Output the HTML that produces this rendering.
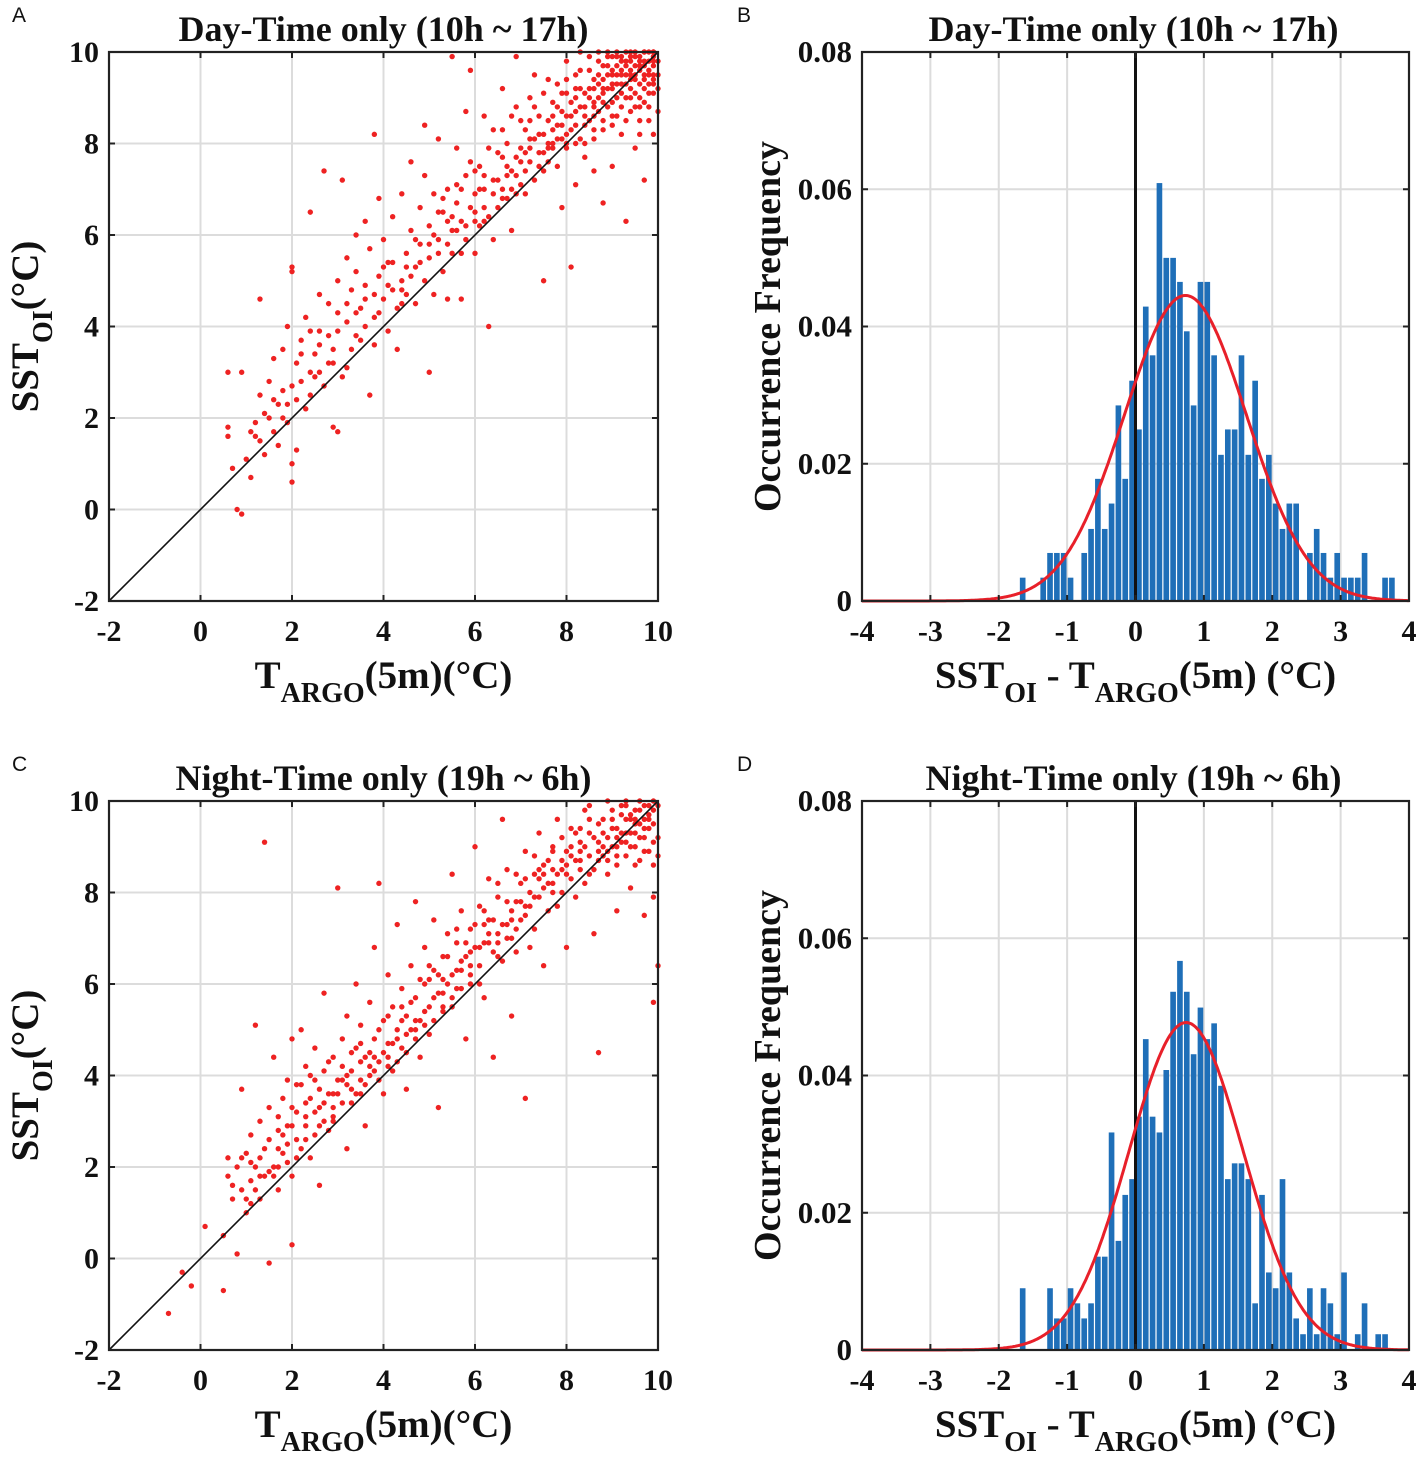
<!DOCTYPE html>
<html><head><meta charset="utf-8">
<style>
html,body{margin:0;padding:0;background:#fff;}
svg{display:block;}
text{font-family:"Liberation Serif",serif;font-weight:bold;fill:#111;}
.lbl{font-family:"Liberation Sans",sans-serif;font-weight:normal;font-size:21px;}
</style></head>
<body>
<svg id="fig" width="1417" height="1459" viewBox="0 0 1417 1459" xmlns="http://www.w3.org/2000/svg"></svg>
<script>
// ---------- data ----------
const scatterDayXY = [0.6,1.8,0.6,1.6,0.7,0.9,0.8,0.0,0.9,-0.1,0.6,3.0,0.9,3.0,1.0,1.1,1.1,0.7,1.2,1.9,1.3,1.5,1.3,2.5,1.3,4.6,1.4,1.2,1.5,2.0,1.5,2.8,1.6,1.7,1.6,3.3,1.7,2.3,1.7,1.4,1.8,2.6,1.8,3.5,1.9,1.9,1.9,4.0,2.0,5.2,2.0,5.3,2.0,0.6,2.0,1.0,2.1,2.4,2.1,3.2,2.2,2.8,2.2,3.7,2.3,2.2,2.3,4.2,2.4,3.9,2.4,6.5,2.5,2.9,2.5,3.4,2.6,3.0,2.6,4.7,2.7,2.7,2.7,7.4,2.8,3.8,2.8,4.5,2.9,3.2,2.9,1.8,3.0,1.7,3.0,3.9,3.0,5.0,3.1,2.9,3.1,7.2,3.2,4.1,3.2,5.5,3.3,3.5,3.3,4.8,3.4,5.2,3.4,6.0,3.5,3.7,3.5,4.4,3.6,4.9,3.6,6.3,3.7,2.5,3.7,5.7,3.8,4.2,3.8,3.6,3.8,8.2,3.9,5.1,3.9,6.8,4.0,4.6,4.0,5.9,4.1,3.9,4.1,4.9,4.2,5.4,4.2,6.4,4.3,4.4,4.3,3.5,4.4,5.0,4.4,6.9,4.5,5.6,4.5,4.7,4.6,6.1,4.6,7.6,4.7,5.3,4.7,4.5,4.8,6.6,4.8,5.8,4.9,5.0,4.9,7.3,5.0,6.2,5.0,5.5,5.0,3.0,5.1,4.7,5.1,6.9,5.2,5.9,5.2,8.1,5.3,6.5,5.3,5.2,5.4,7.0,5.4,4.6,5.5,6.1,5.5,5.6,5.6,6.7,5.6,7.9,5.7,6.3,5.7,4.6,5.8,5.9,5.8,7.3,5.9,6.6,5.9,9.6,6.0,6.9,6.0,5.6,6.1,7.5,6.1,6.2,6.2,7.0,6.2,8.6,6.3,6.4,6.3,4.0,6.4,7.2,6.4,5.9,6.5,7.8,6.5,6.6,6.6,7.0,6.6,9.2,6.7,6.8,6.7,8.0,6.8,7.4,6.8,6.1,6.9,7.7,6.9,8.8,7.0,7.1,7.0,7.9,7.1,8.3,7.1,6.9,7.2,7.6,7.2,9.0,7.3,8.1,7.3,7.2,7.4,8.6,7.4,7.8,7.5,8.2,7.5,5.0,7.6,9.4,7.6,7.6,7.7,8.0,7.7,8.9,7.8,8.4,7.8,7.5,7.9,9.1,7.9,8.1,8.0,8.6,8.0,7.9,8.0,9.8,8.1,8.3,8.1,5.3,8.2,9.2,8.2,8.0,8.3,8.8,8.3,9.6,8.4,8.4,8.4,7.7,8.5,9.0,8.5,8.5,8.6,9.4,8.6,8.1,8.7,8.7,8.7,9.8,8.8,9.1,8.8,8.3,8.9,9.5,8.9,8.8,9.0,9.2,9.0,7.5,9.0,9.9,9.1,9.0,9.1,8.6,9.2,9.6,9.2,9.3,9.3,9.0,9.3,9.8,9.4,9.4,9.4,8.7,9.5,9.7,9.5,9.1,9.6,9.9,9.6,9.3,9.7,9.5,9.7,8.9,9.8,9.8,9.8,9.6,9.9,9.4,9.9,10.0,9.3,6.3,9.5,7.9,9.7,7.2,8.8,6.7,8.2,7.1,7.9,6.6,9.1,9.7,8.5,9.9,8.9,10.0,9.4,10.0,8.0,9.4,7.6,8.5,7.3,9.5,6.9,9.9,6.4,8.3,5.8,8.7,5.5,9.9,4.9,8.4,9.6,8.5,9.9,8.2,9.8,9.1,9.2,8.2,8.6,7.4,7.1,7.4,6.7,7.3,6.0,7.4,5.6,7.1,5.2,6.5,4.4,4.5,3.9,4.3,3.4,3.8,2.9,3.5,2.4,2.5,1.9,2.3,1.1,1.7,2.1,1.3,3.2,3.1,4.5,5.3,5.7,5.6,6.2,6.6,6.9,6.9,7.5,7.4,8.1,8.9,8.7,9.3,9.4,9.6,9.9,9.8,9.6,9.0,9.2,9.9,8.3,8.1,7.7,7.9,7.2,8.5,6.6,7.7,6.1,7.0,5.4,6.3,4.7,5.9,4.1,5.4,3.6,4.0,2.6,3.6,8.5,9.2,8.6,8.9,8.7,9.5,8.8,9.7,8.9,9.2,9.0,9.5,9.1,9.3,9.2,9.1,9.3,9.5,9.4,9.2,9.5,9.4,9.6,9.6,9.7,9.8,9.8,9.3,9.9,9.7,9.5,10.0,9.7,10.0,9.9,9.1,9.8,8.8,9.6,8.2,9.3,8.5,9.0,8.4,8.8,8.9,8.4,9.1,8.2,8.7,8.0,8.2,7.8,8.8,9.1,9.9,9.3,9.3,9.5,8.8,9.7,9.2,9.9,9.5,9.4,9.9,9.0,8.9,8.6,8.6];
const scatterDayExtraXY = [5.1,6.0,5.3,6.8,5.5,6.4,5.7,7.0,5.9,7.6,6.0,6.3,6.2,7.3,6.3,7.9,6.5,7.2,6.6,8.3,6.7,7.5,6.8,8.6,6.9,7.3,7.0,8.5,7.1,7.8,7.2,8.1,7.3,8.8,7.4,8.2,7.5,9.1,7.6,8.0,7.7,8.6,7.8,9.3,7.9,8.7,8.0,9.1,8.1,8.6,8.2,9.5,8.3,9.2,8.4,8.8,8.5,9.6,8.6,9.2,8.7,9.0,8.8,9.4,8.9,9.7,9.0,9.6,9.1,9.5,9.2,9.8,9.3,9.7,9.4,9.5,9.5,9.9,9.6,9.7,9.7,9.4,9.8,9.5,9.9,9.9,10.0,9.8,10.0,9.5,10.0,9.2,10.0,8.7,9.8,8.5,9.6,8.8,9.4,9.0,9.2,8.8,9.0,8.6,8.8,8.5,8.6,8.3,8.4,8.0,8.2,8.4,8.0,8.0,7.8,8.1,7.6,7.9,7.4,7.5,7.2,7.9,7.0,7.6,6.8,7.0,6.6,6.8,6.4,6.9,6.2,6.3,6.0,6.5,5.8,6.2,5.6,6.1,5.4,5.8,5.2,5.6,5.0,5.8,4.8,5.4,4.6,5.1,4.4,4.8,4.2,4.8,4.0,5.3,3.8,4.7,3.6,4.6,3.4,4.3,3.2,4.5,3.0,4.3,2.8,3.2,2.6,3.9,2.4,3.0,2.2,3.4,2.0,2.7,1.8,2.0,1.6,2.4,1.4,2.1,1.2,1.6,9.1,10.0,9.3,10.0,9.7,10.0,9.9,10.0,8.7,10.0,8.3,10.0,8.9,9.9,9.5,9.5,9.7,9.7,9.9,9.3,9.8,10.0,9.6,9.8,9.4,9.8,9.2,9.5,9.0,9.3,8.8,9.2,8.6,8.8,8.4,8.6,8.2,9.0,7.9,8.4,7.7,8.3,7.5,7.8];
const scatterNightXY = [-0.7,-1.2,-0.4,-0.3,-0.2,-0.6,0.1,0.7,0.5,-0.7,0.5,0.5,0.6,1.8,0.6,2.2,0.7,1.3,0.8,0.1,0.8,2.0,0.9,1.5,0.9,3.7,1.0,2.3,1.0,1.0,1.1,1.7,1.1,2.7,1.2,5.1,1.2,2.0,1.3,1.3,1.3,3.0,1.4,9.1,1.4,2.4,1.5,-0.1,1.5,3.3,1.6,2.0,1.6,4.4,1.7,2.8,1.7,1.5,1.8,3.5,1.8,2.3,1.9,3.9,1.9,2.9,2.0,0.3,2.0,4.8,2.0,1.8,2.1,3.2,2.1,2.6,2.2,3.8,2.2,5.0,2.3,2.9,2.3,4.2,2.4,3.5,2.4,2.2,2.5,3.9,2.5,4.6,2.6,3.3,2.6,1.6,2.7,4.1,2.7,5.8,2.8,3.6,2.8,2.8,2.9,4.4,2.9,3.0,3.0,8.1,3.0,3.9,3.1,4.8,3.1,3.4,3.2,5.3,3.2,2.4,3.3,4.1,3.3,3.7,3.4,4.6,3.4,6.0,3.5,3.9,3.5,5.1,3.6,4.4,3.6,2.9,3.7,5.6,3.7,4.0,3.8,4.8,3.8,6.8,3.9,8.2,3.9,4.3,4.0,5.2,4.0,3.6,4.1,4.7,4.1,6.2,4.2,5.5,4.2,4.1,4.3,5.0,4.3,7.3,4.4,4.6,4.4,5.9,4.5,5.3,4.5,3.7,4.6,6.4,4.6,5.0,4.7,5.7,4.7,7.8,4.8,5.2,4.8,4.4,4.9,6.0,4.9,6.8,5.0,5.5,5.0,4.9,5.1,6.3,5.1,7.4,5.2,5.8,5.2,3.3,5.3,6.6,5.3,5.4,5.4,7.1,5.4,6.0,5.5,5.5,5.5,8.4,5.6,6.3,5.6,6.9,5.7,5.9,5.7,7.6,5.8,6.6,5.8,4.8,5.9,7.2,5.9,6.2,6.0,6.8,6.0,9.0,6.1,6.4,6.1,7.7,6.2,6.9,6.2,5.7,6.3,7.4,6.3,8.3,6.4,6.7,6.4,4.4,6.5,7.1,6.5,7.9,6.6,6.5,6.6,9.6,6.7,7.3,6.7,8.5,6.8,7.0,6.8,5.3,6.9,7.8,6.9,6.7,7.0,8.2,7.0,7.4,7.1,3.5,7.1,8.9,7.2,7.7,7.2,6.8,7.3,8.4,7.3,7.2,7.4,9.3,7.4,7.9,7.5,8.1,7.5,6.4,7.6,8.7,7.6,7.6,7.7,9.0,7.7,8.2,7.8,7.7,7.8,9.6,7.9,8.5,7.9,8.0,8.0,8.9,8.0,6.8,8.1,8.3,8.1,9.4,8.2,8.7,8.2,7.9,8.3,9.1,8.3,8.5,8.4,9.8,8.4,8.2,8.5,8.8,8.5,9.3,8.6,8.5,8.6,7.1,8.7,4.5,8.7,9.1,8.8,9.6,8.8,8.8,8.9,9.2,8.9,8.4,9.0,9.8,9.0,9.0,9.1,9.4,9.1,8.6,9.2,9.7,9.2,9.1,9.3,8.8,9.3,9.9,9.4,9.3,9.4,9.6,9.5,9.0,9.5,9.8,9.6,9.5,9.6,8.7,9.7,9.9,9.7,9.2,9.8,9.6,9.8,8.9,9.9,9.8,9.9,5.6,10.0,6.4,9.9,7.9,9.7,7.5,9.4,8.1,9.1,7.6,8.5,9.9,8.9,10.0,9.3,10.0,9.6,10.0,8.8,9.0,9.0,9.4,9.2,9.3,9.4,9.7,9.6,9.2,9.8,9.4,9.9,9.1,9.5,9.6,9.3,9.3,9.1,9.0,8.7,8.7,8.3,8.9,8.0,8.4,7.7,8.5,7.4,8.3,7.1,7.7,6.8,7.6,6.5,6.9,6.2,7.3,5.9,6.7,5.6,5.9,5.3,6.1,5.0,6.1,4.7,5.2,4.4,5.2,4.1,4.4,3.8,4.4,3.5,4.3,3.2,3.8,2.9,3.6,2.6,3.7,2.3,3.4,2.0,2.9,1.7,2.4,1.4,1.8,1.0,1.3,9.9,10.0,9.7,9.6,9.5,9.3,9.8,9.9];
const scatterNightExtraXY = [0.7,1.6,0.9,2.2,1.1,2.1,1.2,1.5,1.3,2.2,1.5,2.6,1.6,1.8,1.7,3.1,1.8,2.7,1.9,2.1,2.0,3.3,2.1,3.8,2.2,2.4,2.3,3.1,2.4,4.0,2.5,3.2,2.6,2.9,2.7,3.4,2.8,4.3,2.9,3.3,3.0,3.6,3.1,4.2,3.2,4.0,3.3,4.5,3.4,3.6,3.5,4.7,3.6,3.8,3.7,4.5,3.8,4.1,3.9,5.0,4.0,4.5,4.1,5.3,4.2,4.7,4.3,4.3,4.4,5.5,4.5,4.9,4.6,5.6,4.7,5.0,4.8,6.1,4.9,5.4,5.0,6.4,5.1,5.7,5.2,6.2,5.3,5.8,5.4,6.6,5.5,6.2,5.6,7.2,5.7,6.5,5.8,6.9,5.9,6.4,6.0,7.3,6.1,6.8,6.2,7.6,6.3,6.9,6.4,7.4,6.5,8.2,6.6,7.3,6.7,7.8,6.8,7.4,6.9,8.4,7.0,7.8,7.1,8.3,7.2,8.0,7.3,8.8,7.4,8.5,7.5,8.6,7.6,8.2,7.7,8.9,7.8,8.4,7.9,9.2,8.0,8.6,8.1,8.8,8.2,9.3,8.3,8.7,8.4,9.0,8.5,8.4,8.6,9.2,8.7,9.5,8.8,9.3,8.9,8.9,9.0,9.6,9.1,9.2,9.2,9.9,9.3,9.6,9.4,9.0,9.5,9.5,9.6,9.8,9.7,9.4,9.8,9.7,9.9,9.5,10.0,9.9,10.0,9.2,10.0,8.8,9.9,8.6,9.7,8.9,9.5,8.6,9.3,9.1,9.1,8.8,8.9,8.7,8.7,8.9,8.5,9.6,8.3,9.4,8.1,9.0,7.9,8.7,7.7,8.0,7.5,8.4,7.3,7.9,7.1,7.5,6.9,7.2,6.7,7.0,6.5,6.6,6.3,7.1,6.1,6.0,5.9,6.0,5.7,6.3,5.5,5.7,5.3,5.5,5.1,5.2,4.9,5.1,4.7,4.8,4.5,4.5,4.3,4.8,4.1,4.2,3.9,3.9,3.7,4.2,3.5,3.6,3.3,3.4,3.1,3.9,2.9,3.1,2.7,3.0,2.5,2.7,2.3,2.6,2.1,2.2,1.9,2.5,1.7,2.0,1.5,1.9,1.3,1.8,1.1,1.2];
// histogram bins (centers) and frequencies
const binCenters = [-1.65,-1.55,-1.45,-1.35,-1.25,-1.15,-1.05,-0.95,-0.85,-0.75,-0.65,-0.55,-0.45,-0.35,-0.25,-0.15,-0.05,0.05,0.15,0.25,0.35,0.45,0.55,0.65,0.75,0.85,0.95,1.05,1.15,1.25,1.35,1.45,1.55,1.65,1.75,1.85,1.95,2.05,2.15,2.25,2.35,2.45,2.55,2.65,2.75,2.85,2.95,3.05,3.15,3.25,3.35,3.45,3.55,3.65,3.75];
const histDay = [0.0034,0,0,0.0034,0.0070,0.0070,0.0070,0.0034,0,0.0070,0.0105,0.0178,0.0105,0.0142,0.0285,0.0178,0.0321,0.0250,0.0429,0.0358,0.0609,0.0500,0.0500,0.0465,0.0393,0.0285,0.0465,0.0465,0.0358,0.0213,0.0250,0.0250,0.0358,0.0213,0.0321,0.0178,0.0213,0.0142,0.0105,0.0142,0.0142,0,0.0070,0.0105,0.0070,0.0034,0.0070,0.0034,0.0034,0.0034,0.0070,0,0,0.0034,0.0034];
const histNight = [0.0090,0,0,0,0.0090,0.0046,0.0046,0.0090,0.0068,0.0046,0.0068,0.0136,0.0136,0.0317,0.0159,0.0226,0.0249,0.0340,0.0453,0.0340,0.0317,0.0408,0.0522,0.0567,0.0522,0.0431,0.0499,0.0453,0.0476,0.0385,0.0249,0.0272,0.0272,0.0249,0.0068,0.0226,0.0113,0.0090,0.0249,0.0113,0.0046,0.0023,0.0090,0.0023,0.0090,0.0068,0.0023,0.0113,0,0.0023,0.0068,0,0.0023,0.0023,0];
const fitDay = {mu:0.73, sigma:0.896};
const fitNight = {mu:0.74, sigma:0.836};
const scatterTicks = [-2,0,2,4,6,8,10];
const histXTicks = [-4,-3,-2,-1,0,1,2,3,4];
const histYTicks = [0,0.02,0.04,0.06,0.08];
const histYLabels = ['0','0.02','0.04','0.06','0.08'];

// ---------- drawing ----------
const svg = document.getElementById('fig');
const NS = 'http://www.w3.org/2000/svg';
function mk(tag, attrs, parent){
  const e = document.createElementNS(NS, tag);
  for (const k in attrs) e.setAttribute(k, attrs[k]);
  (parent||svg).appendChild(e);
  return e;
}
function txt(s, x, y, size, anchor, parent){
  const t = mk('text', {x:x, y:y, 'font-size':size, 'text-anchor':anchor||'middle'}, parent);
  t.textContent = s;
  return t;
}

function axesFrame(g, L, T, R, B, xt, yt, sx, sy){
  xt.forEach(v=>{
    const x = sx(v);
    const l = mk('line',{x1:x,x2:x,y1:T,y2:B,stroke:'#dcdcdc','stroke-width':2},g);
    
    
  });
  yt.forEach(v=>{
    const y = sy(v);
    const l = mk('line',{x1:L,x2:R,y1:y,y2:y,stroke:'#dcdcdc','stroke-width':2},g);
    
    
  });
}
function axesBox(g, L, T, R, B, xt, yt, sx, sy){
  const tk = mk('g',{},g);
  
  
  xt.forEach(v=>{const x=sx(v);
    mk('line',{x1:x,x2:x,y1:B,y2:B-6,stroke:'#222','stroke-width':2},tk);
    mk('line',{x1:x,x2:x,y1:T,y2:T+6,stroke:'#222','stroke-width':2},tk);});
  yt.forEach(v=>{const y=sy(v);
    mk('line',{x1:L,x2:L+6,y1:y,y2:y,stroke:'#222','stroke-width':2},tk);
    mk('line',{x1:R,x2:R-6,y1:y,y2:y,stroke:'#222','stroke-width':2},tk);});
  const r = mk('rect',{x:L,y:T,width:R-L,height:B-T,fill:'none',stroke:'#222','stroke-width':2.2},g);
  
  
}

function scatterPanel(name, letter, title, data, top){
  const L=109,R=658,T=top,B=top+549;
  const sx = v => L + (v+2)/12*(R-L);
  const sy = v => B - (v+2)/12*(B-T);
  const g = mk('g',{});
  
  
  axesFrame(g,L,T,R,B,scatterTicks,scatterTicks,sx,sy);
  const pts = mk('g',{},g);
  
  
  for(let i=0;i<data.length;i+=2){
    const c = mk('circle',{cx:sx(data[i]),cy:sy(data[i+1]),r:2.7,fill:'#ee2222'},pts);
    
    
  }
  const ln = mk('line',{x1:sx(-2),y1:sy(-2),x2:sx(10),y2:sy(10),stroke:'#111','stroke-width':1.6},g);
  
  
  axesBox(g,L,T,R,B,scatterTicks,scatterTicks,sx,sy);
  scatterTicks.forEach(v=>{
    const a = txt(String(v), sx(v), B+40, 30, 'middle', g);
    
    
    const b = txt(String(v), L-10, sy(v)+10, 30, 'end', g);
    
    
  });
  const tt = txt(title, (L+R)/2, T-11, 36, 'middle', g);
  
  
  const lt = txt(letter, 12, T-30, 21, 'start', g);
  lt.setAttribute('class','lbl');
  
  
  const xl = mk('text',{x:(L+R)/2,y:B+87,'font-size':39,'text-anchor':'middle'},g);
  
  
  xl.innerHTML = 'T<tspan font-size="28" dy="14">ARGO</tspan><tspan dy="-14">(5m)(°C)</tspan>';
  const yl = mk('text',{x:0,y:0,'font-size':39,'text-anchor':'middle',transform:`translate(38,${(T+B)/2}) rotate(-90)`},g);
  
  
  yl.innerHTML = 'SST<tspan font-size="28" dy="14">OI</tspan><tspan dy="-14">(°C)</tspan>';
}

function histPanel(name, letter, title, hist, fit, top){
  const L=862,R=1409,T=top,B=top+549;
  const sx = v => L + (v+4)/8*(R-L);
  const sy = v => B - v/0.08*(B-T);
  const g = mk('g',{});
  
  
  axesFrame(g,L,T,R,B,histXTicks,histYTicks,sx,sy);
  const bars = mk('g',{},g);
  
  
  binCenters.forEach((c,i)=>{
    const h = hist[i]; if(!h) return;
    const x0 = sx(c-0.05)+0.6, x1 = sx(c+0.05)-0.6;
    const r = mk('rect',{x:x0,y:sy(h),width:x1-x0,height:sy(0)-sy(h),fill:'#1f6fb8'},bars);
    
    
  });
  const zl = mk('line',{x1:sx(0),x2:sx(0),y1:T,y2:B,stroke:'#111','stroke-width':3},g);
  
  
  let d='';
  for(let v=-4; v<=4.0001; v+=0.02){
    const p = 0.1/(fit.sigma*Math.sqrt(2*Math.PI))*Math.exp(-0.5*Math.pow((v-fit.mu)/fit.sigma,2));
    d += (d?'L':'M') + sx(v).toFixed(1)+','+sy(p).toFixed(1);
  }
  const curve = mk('path',{d:d,fill:'none',stroke:'#e8202a','stroke-width':3},g);
  
  
  axesBox(g,L,T,R,B,histXTicks,histYTicks,sx,sy);
  histXTicks.forEach(v=>{
    const a = txt(String(v), sx(v), B+40, 30, 'middle', g);
    
    
  });
  histYTicks.forEach((v,i)=>{
    const b = txt(histYLabels[i], L-10, sy(v)+10, 31, 'end', g);
    
    
  });
  const tt = txt(title, (L+R)/2-2, T-11, 36, 'middle', g);
  
  
  const lt = txt(letter, 737, T-30, 21, 'start', g);
  lt.setAttribute('class','lbl');
  
  
  const xl = mk('text',{x:(L+R)/2,y:B+87,'font-size':39,'text-anchor':'middle'},g);
  
  
  xl.innerHTML = 'SST<tspan font-size="28" dy="14">OI</tspan><tspan dy="-14"> - T</tspan><tspan font-size="28" dy="14">ARGO</tspan><tspan dy="-14">(5m) (°C)</tspan>';
  const yl = mk('text',{x:0,y:0,'font-size':38,'text-anchor':'middle',transform:`translate(780,${(T+B)/2}) rotate(-90)`},g);
  
  
  yl.textContent = 'Occurrence Frequency';
}

scatterPanel('panel-a-day-scatter','A','Day-Time only (10h ~ 17h)',scatterDayXY.concat(scatterDayExtraXY),52);
histPanel('panel-b-day-histogram','B','Day-Time only (10h ~ 17h)',histDay,fitDay,52);
scatterPanel('panel-c-night-scatter','C','Night-Time only (19h ~ 6h)',scatterNightXY.concat(scatterNightExtraXY),801);
histPanel('panel-d-night-histogram','D','Night-Time only (19h ~ 6h)',histNight,fitNight,801);
</script>
</body></html>
